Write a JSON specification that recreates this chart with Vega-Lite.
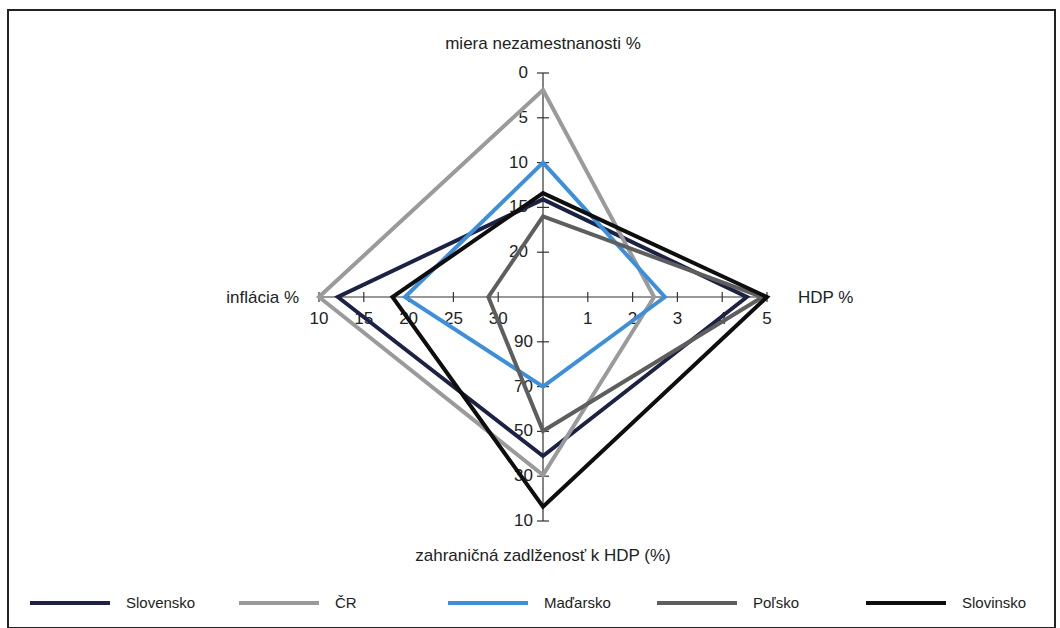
{
  "$schema": "https://vega.github.io/schema/vega-lite/v6.json",
  "width": 1047,
  "height": 618,
  "autosize": "none",
  "padding": {"left": 8, "top": 10, "right": 5, "bottom": 0},
  "background": "white",
  "config": {
    "view": {"stroke": "#222", "strokeWidth": 2},
    "font": "Liberation Sans",
    "legend": {
      "orient": "none",
      "legendX": 20,
      "legendY": 551,
      "direction": "horizontal",
      "columns": 5,
      "symbolType": "stroke",
      "symbolSize": 6400,
      "symbolStrokeWidth": 4,
      "labelFont": "Liberation Sans",
      "labelFontSize": 15,
      "labelColor": "#222",
      "labelOffset": 14,
      "columnPadding": 35,
      "gridAlign": "all"
    }
  },
  "datasets": {
    "series": [
      {"country": "Slovensko", "ind": "u", "v": 14.1},
      {"country": "Slovensko", "ind": "h", "v": 4.55},
      {"country": "Slovensko", "ind": "d", "v": 39},
      {"country": "Slovensko", "ind": "i", "v": 12.1},
      {"country": "ČR", "ind": "u", "v": 1.9},
      {"country": "ČR", "ind": "h", "v": 2.48},
      {"country": "ČR", "ind": "d", "v": 30.5},
      {"country": "ČR", "ind": "i", "v": 10},
      {"country": "Maďarsko", "ind": "u", "v": 10},
      {"country": "Maďarsko", "ind": "h", "v": 2.72},
      {"country": "Maďarsko", "ind": "d", "v": 70},
      {"country": "Maďarsko", "ind": "i", "v": 19.6},
      {"country": "Poľsko", "ind": "u", "v": 16},
      {"country": "Poľsko", "ind": "h", "v": 4.9},
      {"country": "Poľsko", "ind": "d", "v": 50.2},
      {"country": "Poľsko", "ind": "i", "v": 28.9},
      {"country": "Slovinsko", "ind": "u", "v": 13.4},
      {"country": "Slovinsko", "ind": "h", "v": 5.0},
      {"country": "Slovinsko", "ind": "d", "v": 16.4},
      {"country": "Slovinsko", "ind": "i", "v": 18.2}
    ],
    "ticks": [
      {"ind": "u", "v": 0}, {"ind": "u", "v": 5}, {"ind": "u", "v": 10}, {"ind": "u", "v": 15}, {"ind": "u", "v": 20},
      {"ind": "h", "v": 1}, {"ind": "h", "v": 2}, {"ind": "h", "v": 3}, {"ind": "h", "v": 4}, {"ind": "h", "v": 5},
      {"ind": "d", "v": 90}, {"ind": "d", "v": 70}, {"ind": "d", "v": 50}, {"ind": "d", "v": 30}, {"ind": "d", "v": 10},
      {"ind": "i", "v": 10}, {"ind": "i", "v": 15}, {"ind": "i", "v": 20}, {"ind": "i", "v": 25}, {"ind": "i", "v": 30}
    ],
    "axes": [
      {"ind": "u", "v": 0},
      {"ind": "h", "v": 5},
      {"ind": "d", "v": 10},
      {"ind": "i", "v": 10}
    ]
  },
  "layer": [
    {
      "data": {"name": "axes"},
      "transform": [
        {"calculate": "datum.ind == 'u' ? (25 - datum.v) / 25 : datum.ind == 'h' ? datum.v / 5 : datum.ind == 'd' ? (110 - datum.v) / 100 : (35 - datum.v) / 25", "as": "r"},
        {"calculate": "datum.ind == 'h' ? datum.r : datum.ind == 'i' ? -datum.r : 0", "as": "px"},
        {"calculate": "datum.ind == 'u' ? datum.r : datum.ind == 'd' ? -datum.r : 0", "as": "py"}
      ],
      "mark": {"type": "rule", "color": "#333", "strokeWidth": 1.2},
      "encoding": {
        "x": {"field": "px", "type": "quantitative", "scale": {"domain": [-2.3884, 2.2857], "nice": false, "zero": false}, "axis": null},
        "y": {"field": "py", "type": "quantitative", "scale": {"domain": [-1.47768, 1.28125], "nice": false, "zero": false}, "axis": null},
        "x2": {"datum": 0},
        "y2": {"datum": 0}
      }
    },
    {
      "data": {"name": "ticks"},
      "transform": [
        {"filter": "datum.ind == 'u' || datum.ind == 'd'"},
        {"calculate": "datum.ind == 'u' ? (25 - datum.v) / 25 : datum.ind == 'h' ? datum.v / 5 : datum.ind == 'd' ? (110 - datum.v) / 100 : (35 - datum.v) / 25", "as": "r"},
        {"calculate": "datum.ind == 'h' ? datum.r : datum.ind == 'i' ? -datum.r : 0", "as": "px"},
        {"calculate": "datum.ind == 'u' ? datum.r : datum.ind == 'd' ? -datum.r : 0", "as": "py"}
      ],
      "mark": {"type": "tick", "orient": "horizontal", "size": 12, "thickness": 1.2, "color": "#333", "opacity": 1},
      "encoding": {
        "x": {"field": "px", "type": "quantitative", "axis": null},
        "y": {"field": "py", "type": "quantitative", "axis": null}
      }
    },
    {
      "data": {"name": "ticks"},
      "transform": [
        {"filter": "datum.ind == 'h' || datum.ind == 'i'"},
        {"calculate": "datum.ind == 'u' ? (25 - datum.v) / 25 : datum.ind == 'h' ? datum.v / 5 : datum.ind == 'd' ? (110 - datum.v) / 100 : (35 - datum.v) / 25", "as": "r"},
        {"calculate": "datum.ind == 'h' ? datum.r : datum.ind == 'i' ? -datum.r : 0", "as": "px"},
        {"calculate": "datum.ind == 'u' ? datum.r : datum.ind == 'd' ? -datum.r : 0", "as": "py"}
      ],
      "mark": {"type": "tick", "orient": "vertical", "size": 10, "thickness": 1.2, "color": "#333", "opacity": 1},
      "encoding": {
        "x": {"field": "px", "type": "quantitative", "axis": null},
        "y": {"field": "py", "type": "quantitative", "axis": null}
      }
    },
    {
      "data": {"name": "ticks"},
      "transform": [
        {"filter": "datum.ind == 'u'"},
        {"calculate": "(25 - datum.v) / 25", "as": "py"},
        {"calculate": "0", "as": "px"}
      ],
      "mark": {"type": "text", "align": "right", "baseline": "middle", "dx": -15, "fontSize": 17, "color": "#222"},
      "encoding": {
        "x": {"field": "px", "type": "quantitative", "axis": null},
        "y": {"field": "py", "type": "quantitative", "axis": null},
        "text": {"field": "v", "type": "quantitative"}
      }
    },
    {
      "data": {"name": "ticks"},
      "transform": [
        {"filter": "datum.ind == 'd'"},
        {"calculate": "-(110 - datum.v) / 100", "as": "py"},
        {"calculate": "0", "as": "px"}
      ],
      "mark": {"type": "text", "align": "right", "baseline": "middle", "dx": -10, "fontSize": 17, "color": "#222"},
      "encoding": {
        "x": {"field": "px", "type": "quantitative", "axis": null},
        "y": {"field": "py", "type": "quantitative", "axis": null},
        "text": {"field": "v", "type": "quantitative"}
      }
    },
    {
      "data": {"name": "ticks"},
      "transform": [
        {"filter": "datum.ind == 'h' || datum.ind == 'i'"},
        {"calculate": "datum.ind == 'h' ? datum.v / 5 : -(35 - datum.v) / 25", "as": "px"},
        {"calculate": "0", "as": "py"}
      ],
      "mark": {"type": "text", "align": "center", "baseline": "middle", "dy": 22, "fontSize": 17, "color": "#222"},
      "encoding": {
        "x": {"field": "px", "type": "quantitative", "axis": null},
        "y": {"field": "py", "type": "quantitative", "axis": null},
        "text": {"field": "v", "type": "quantitative"}
      }
    },
    {
      "data": {"name": "series"},
      "transform": [
        {"calculate": "datum.ind == 'u' ? (25 - datum.v) / 25 : datum.ind == 'h' ? datum.v / 5 : datum.ind == 'd' ? (110 - datum.v) / 100 : (35 - datum.v) / 25", "as": "r"},
        {"calculate": "datum.ind == 'h' ? datum.r : datum.ind == 'i' ? -datum.r : 0", "as": "px"},
        {"calculate": "datum.ind == 'u' ? datum.r : datum.ind == 'd' ? -datum.r : 0", "as": "py"},
        {"calculate": "indexof(['u','h','d','i'], datum.ind)", "as": "k"}
      ],
      "mark": {"type": "line", "interpolate": "linear-closed", "strokeWidth": 4, "strokeJoin": "miter"},
      "encoding": {
        "x": {"field": "px", "type": "quantitative", "axis": null},
        "y": {"field": "py", "type": "quantitative", "axis": null},
        "order": {"field": "k", "type": "quantitative"},
        "color": {
          "field": "country",
          "type": "nominal",
          "scale": {
            "domain": ["Slovensko", "ČR", "Maďarsko", "Poľsko", "Slovinsko"],
            "range": ["#1c2244", "#9a9a9a", "#3d8fdb", "#5e5e5e", "#0e0e0e"]
          },
          "legend": {"title": null}
        }
      }
    },
    {
      "data": {"values": [{"t": "miera nezamestnanosti %"}]},
      "mark": {"type": "text", "align": "center", "baseline": "alphabetic", "dy": -24, "fontSize": 17, "color": "#222"},
      "encoding": {
        "x": {"datum": 0, "type": "quantitative"},
        "y": {"datum": 1, "type": "quantitative"},
        "text": {"field": "t"}
      }
    },
    {
      "data": {"values": [{"t": "HDP %"}]},
      "mark": {"type": "text", "align": "left", "baseline": "middle", "dx": 31, "dy": 1, "fontSize": 17, "color": "#222"},
      "encoding": {
        "x": {"datum": 1, "type": "quantitative"},
        "y": {"datum": 0, "type": "quantitative"},
        "text": {"field": "t"}
      }
    },
    {
      "data": {"values": [{"t": "inflácia %"}]},
      "mark": {"type": "text", "align": "right", "baseline": "middle", "dx": -20, "dy": 1, "fontSize": 17, "color": "#222"},
      "encoding": {
        "x": {"datum": -1, "type": "quantitative"},
        "y": {"datum": 0, "type": "quantitative"},
        "text": {"field": "t"}
      }
    },
    {
      "data": {"values": [{"t": "zahraničná zadlženosť k HDP (%)"}]},
      "mark": {"type": "text", "align": "center", "baseline": "alphabetic", "dy": 40, "fontSize": 17, "color": "#222"},
      "encoding": {
        "x": {"datum": 0, "type": "quantitative"},
        "y": {"datum": -1, "type": "quantitative"},
        "text": {"field": "t"}
      }
    }
  ]
}
